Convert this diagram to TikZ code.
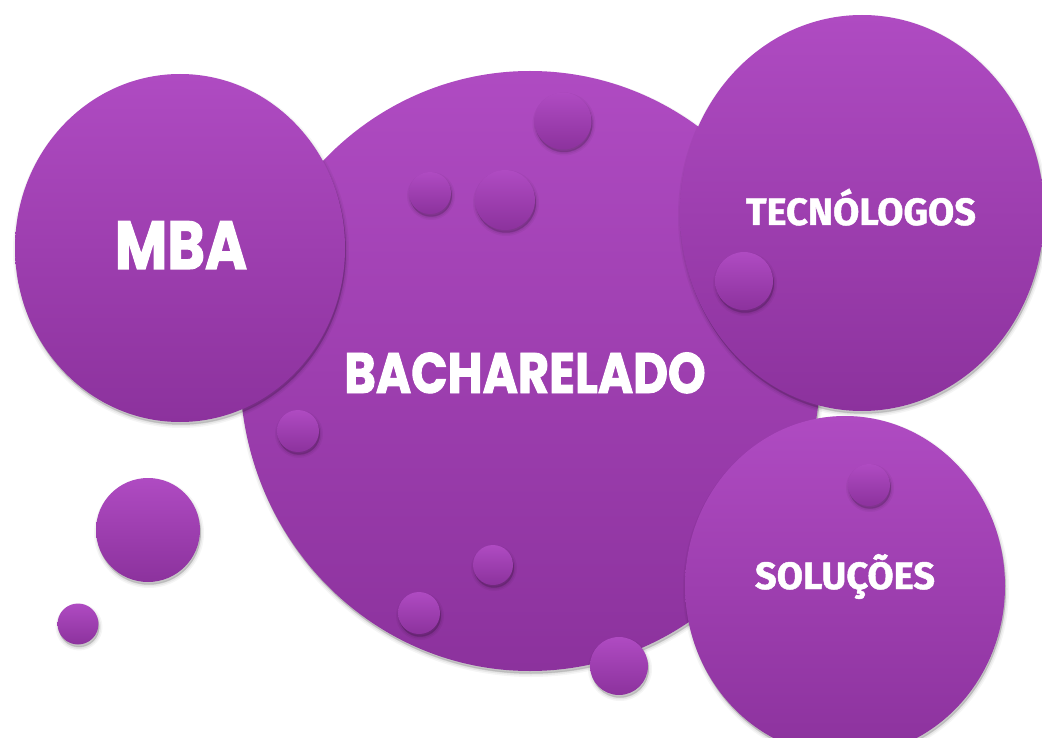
\documentclass[tikz,border=0pt]{standalone}
\usepackage{fontspec}
\newfontfamily\roundfont{Poppins}[FakeStretch=0.84, BoldFeatures={FakeBold=1.6}]
\newfontfamily\labelfont{Fira Sans}[BoldFeatures={FakeBold=1.2}]
\usetikzlibrary{shapes.geometric}

\definecolor{bubtop}{RGB}{175,75,194}
\definecolor{bubbot}{RGB}{140,50,157}

\tikzset{
  shadowed/.style={
    preaction={fill=black, draw=black, line width=6pt, opacity=.04,
      transform canvas={shift={(1pt,-3pt)}}},
    preaction={fill=black, draw=black, line width=3pt, opacity=.06,
      transform canvas={shift={(1pt,-3pt)}}},
    preaction={fill=black, opacity=.10,
      transform canvas={shift={(1pt,-2.5pt)}}}},
  bubble/.style={ellipse, inner sep=0pt, top color=bubtop, bottom color=bubbot, shadowed},
  dot/.style={circle, inner sep=0pt, top color=bubtop, bottom color=bubbot, shadowed},
  bigtext/.style={text=white, anchor=base, inner sep=0pt,
    font=\roundfont\bfseries\fontsize{#1}{#1}\selectfont},
  smalltext/.style={text=white, anchor=base, inner sep=0pt,
    font=\labelfont\bfseries\fontsize{#1}{#1}\selectfont}
}

\begin{document}
\begin{tikzpicture}[x=1pt,y=-1pt]
    \useasboundingbox (0,0) rectangle (1042,738);
    % main bubbles
    \node[bubble, minimum width=580pt, minimum height=600pt] (bach) at (530,371) {};
    \node[bubble, minimum width=330pt, minimum height=348pt] (mba) at (180,248) {};
    \node[bubble, minimum width=364pt, minimum height=396pt] (tecn) at (862,213) {};
    \node[bubble, minimum width=320pt, minimum height=340pt] (solu) at (845,586) {};
    % small bubbles
    \foreach \x/\y/\r [count=\i] in {563/121/28.5, 430/193/21, 505/200/30, 744/281/29,
        298/431/21, 148/530/52, 78/624/20.5, 493/565/20, 419/613/21, 619/666/29, 869/485/21}
        \node[dot, minimum size=\r*2pt] (dot\i) at (\x,\y) {};
    % labels
    \node[bigtext=68] (mbalabel) at (181,269) {MBA};
    \node[bigtext=57] (bachlabel) at (525,393) {BACHARELADO};
    \node[smalltext=38] (tecnlabel) at (861,225) {TECNÓLOGOS};
    \node[smalltext=38] (solulabel) at (845,589) {SOLUÇÕES};
\end{tikzpicture}
\end{document}
